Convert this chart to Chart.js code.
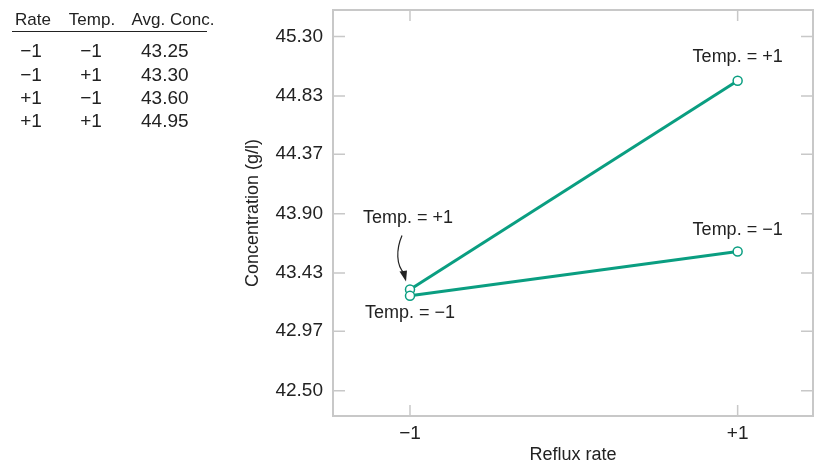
<!DOCTYPE html>
<html>
<head>
<meta charset="utf-8">
<script src="https://cdn.jsdelivr.net/npm/chart.js@4"></script>
<style>
  html,body{margin:0;padding:0;background:#fff;}
  #wrap{position:relative;width:822px;height:464px;font-family:"Liberation Sans",Arial,sans-serif;color:#222;}
  #c{position:absolute;left:0;top:0;}
  .t{position:absolute;font-size:17px;line-height:18px;white-space:nowrap;}
  .n{font-size:19px;line-height:20px;}
  .rule{position:absolute;left:12px;top:31px;width:195px;height:0;border-top:1.5px solid #222;}
</style>
</head>
<body>
<div id="wrap">
  <canvas id="c" width="822" height="464"></canvas>
  <div id="table"></div>
</div>
<script>
// ---- data ----
const refluxRate = [-1, 1];
const tempMinus = [43.25, 43.60];
const tempPlus = [43.30, 44.95];
const yTickValues = [42.50, 42.97, 43.43, 43.90, 44.37, 44.83, 45.30];
const xTickValues = [-1, 1];
const xTickLabels = ['\u22121', '+1'];
const tableHeader = ['Rate', 'Temp.', 'Avg. Conc.'];
const tableRate = ['\u22121', '\u22121', '+1', '+1'];
const tableTemp = ['\u22121', '+1', '\u22121', '+1'];
const tableConc = ['43.25', '43.30', '43.60', '44.95'];

// ---- table (HTML text) ----
(function(){
  const tb = document.getElementById('table');
  const add = (txt, x, y, align, cls) => {
    const d = document.createElement('div');
    d.className = 't' + (cls ? ' ' + cls : '');
    d.textContent = txt;
    d.style.top = (y - (cls ? 10 : 9)) + 'px';
    if (align === 'center') { d.style.left = x + 'px'; d.style.transform = 'translateX(-50%)'; }
    else d.style.left = x + 'px';
    tb.appendChild(d);
  };
  add(tableHeader[0], 33, 20, 'center');
  add(tableHeader[1], 92, 20, 'center');
  add(tableHeader[2], 173, 20, 'center');
  const r = document.createElement('div'); r.className = 'rule'; tb.appendChild(r);
  const rowsY = [51, 75, 98, 121];
  for (let i = 0; i < rowsY.length; i++) {
    add(tableRate[i], 31, rowsY[i], 'center', 'n');
    add(tableTemp[i], 91, rowsY[i], 'center', 'n');
    add(tableConc[i], 141, rowsY[i], 'left', 'n');
  }
})();

const teal = '#0a9e81';
const frameColor = '#c8c8c8';
const FONT = '"Liberation Sans", Arial, sans-serif';

const framePlugin = {
  id: 'frame',
  beforeDatasetsDraw(chart) {
    const {ctx, chartArea: a, scales} = chart;
    ctx.save();
    ctx.strokeStyle = frameColor;
    ctx.lineWidth = 2;
    ctx.strokeRect(a.left, a.top, a.right - a.left, a.bottom - a.top);
    ctx.lineWidth = 1.5;
    const L = 12;
    yTickValues.forEach(v => {
      const y = scales.y.getPixelForValue(v);
      ctx.beginPath();
      ctx.moveTo(a.left, y); ctx.lineTo(a.left + L, y);
      ctx.moveTo(a.right, y); ctx.lineTo(a.right - L, y);
      ctx.stroke();
    });
    xTickValues.forEach(v => {
      const x = scales.x.getPixelForValue(v);
      ctx.beginPath();
      ctx.moveTo(x, a.bottom); ctx.lineTo(x, a.bottom - 11);
      ctx.moveTo(x, a.top); ctx.lineTo(x, a.top + 11);
      ctx.stroke();
    });
    ctx.restore();
  },
  afterDatasetsDraw(chart) {
    const {ctx, scales} = chart;
    const X = v => scales.x.getPixelForValue(v);
    const Y = v => scales.y.getPixelForValue(v);
    ctx.save();
    ctx.fillStyle = '#222';
    ctx.font = '18px ' + FONT;
    ctx.textAlign = 'center';
    ctx.textBaseline = 'middle';
    const px = X(refluxRate[0]), pyPlus = Y(tempPlus[0]), pyMinus = Y(tempMinus[0]);
    ctx.fillText('Temp. = +1', px - 2, pyPlus - 71);
    ctx.fillText('Temp. = \u22121', px, pyMinus + 17);
    const qx = X(refluxRate[1]);
    ctx.fillText('Temp. = +1', qx, Y(tempPlus[1]) - 24);
    ctx.fillText('Temp. = \u22121', qx, Y(tempMinus[1]) - 22);
    // curved arrow
    const sx = px - 8, sy = pyPlus - 54, ex = px - 4, ey = pyPlus - 8;
    ctx.strokeStyle = '#222';
    ctx.lineWidth = 1.2;
    ctx.beginPath();
    ctx.moveTo(sx, sy);
    ctx.bezierCurveTo(sx - 6, sy + 14, sx - 6, sy + 30, ex - 1.5, ey - 8);
    ctx.stroke();
    ctx.beginPath();
    ctx.moveTo(ex, ey);
    ctx.lineTo(ex - 6.5, ey - 10);
    ctx.lineTo(ex + 1, ey - 11);
    ctx.closePath();
    ctx.fill();
    ctx.restore();
  }
};

const mk = arr => refluxRate.map((x, i) => ({x, y: arr[i]}));
const dsStyle = {
  borderColor: teal, borderWidth: 3, pointRadius: 4.5, pointBorderWidth: 1.5,
  pointBackgroundColor: '#fff', pointBorderColor: teal, fill: false, tension: 0
};

new Chart(document.getElementById('c'), {
  type: 'line',
  data: {
    datasets: [
      Object.assign({label: 'Temp. = \u22121', data: mk(tempMinus)}, dsStyle),
      Object.assign({label: 'Temp. = +1', data: mk(tempPlus)}, dsStyle)
    ]
  },
  plugins: [framePlugin],
  options: {
    responsive: false,
    animation: false,
    devicePixelRatio: 1,
    layout: {padding: {left: 242, right: 9, top: 10, bottom: 0}},
    plugins: {legend: {display: false}, tooltip: {enabled: false}},
    scales: {
      x: {
        type: 'linear', min: -1.47, max: 1.46,
        grid: {display: false, drawTicks: false, tickLength: 0}, border: {display: false},
        afterBuildTicks: s => { s.ticks = xTickValues.map(v => ({value: v})); },
        afterFit: s => { s.height = 48; s.paddingLeft = 0; s.paddingRight = 0; },
        ticks: {
          color: '#222', font: {size: 19, family: FONT}, padding: 6,
          callback: v => xTickLabels[xTickValues.indexOf(v)]
        },
        title: {display: true, text: 'Reflux rate', color: '#222', font: {size: 18, family: FONT, lineHeight: 1.0}, padding: {top: 0, bottom: 0}}
      },
      y: {
        type: 'linear', min: 42.30, max: 45.51,
        grid: {display: false, drawTicks: false, tickLength: 0}, border: {display: false},
        afterBuildTicks: s => { s.ticks = yTickValues.map(v => ({value: v})); },
        afterFit: s => { s.width = 91; s.paddingTop = 0; s.paddingBottom = 0; },
        ticks: {
          color: '#222', font: {size: 19, family: FONT}, padding: 10,
          callback: v => v.toFixed(2)
        },
        title: {display: true, text: 'Concentration (g/l)', color: '#222', font: {size: 18, family: FONT}, padding: {top: 0, bottom: 0}}
      }
    }
  }
});
</script>
</body>
</html>
